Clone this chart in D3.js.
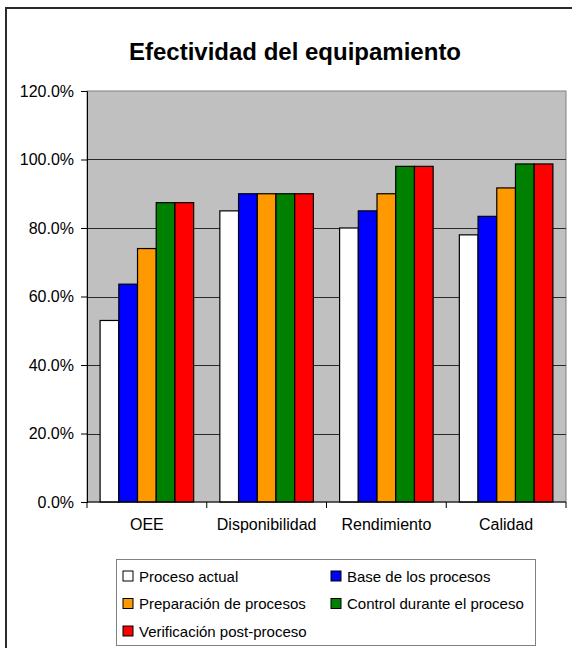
<!DOCTYPE html>
<html>
<head>
<meta charset="utf-8">
<script src="https://cdn.jsdelivr.net/npm/d3@7"></script>
<style>
  body { margin: 0; background: #fff; }
  text { font-family: "Liberation Sans", Arial, sans-serif; fill: #000; }
</style>
</head>
<body>
<div id="chart"></div>
<script>
// chart data
var categories = ["OEE", "Disponibilidad", "Rendimiento", "Calidad"];
var seriesNames = ["Proceso actual", "Base de los procesos", "Preparación de procesos",
  "Control durante el proceso", "Verificación post-proceso"];
var seriesColors = ["#ffffff", "#0000ff", "#ff9900", "#008000", "#ff0000"];
var procesoActual = [53.0, 85.0, 80.0, 78.0];
var baseProcesos = [63.6, 90.0, 85.0, 83.4];
var preparacion = [74.0, 90.0, 90.0, 91.7];
var control = [87.4, 90.0, 98.0, 98.7];
var verificacion = [87.4, 90.0, 98.0, 98.7];
var yTicks = [0, 20, 40, 60, 80, 100, 120];

var seriesValues = [procesoActual, baseProcesos, preparacion, control, verificacion];

var svgWidth = 572;
var svgHeight = 648;

var margin = { top: 91, right: 6, bottom: 146, left: 87 };
var width = svgWidth - margin.left - margin.right;
var height = svgHeight - margin.top - margin.bottom;

var svg = d3.select("#chart")
  .append("svg")
  .attr("width", svgWidth)
  .attr("height", svgHeight);

// outer chart frame (runs off the right and bottom edge)
svg.append("rect")
  .attr("x", 6)
  .attr("y", 8)
  .attr("width", 620)
  .attr("height", 700)
  .attr("fill", "#fff")
  .attr("stroke", "#2b2b2b")
  .attr("stroke-width", 2);

svg.append("text")
  .attr("x", 295)
  .attr("y", 60)
  .attr("text-anchor", "middle")
  .style("font-size", "24px")
  .style("font-weight", "bold")
  .text("Efectividad del equipamiento");

var chartGroup = svg.append("g")
  .attr("transform", `translate(${margin.left}, ${margin.top})`);

// scales
var x0 = d3.scaleBand()
  .domain(categories)
  .range([0, width])
  .paddingInner(0)
  .paddingOuter(0);

var x1 = d3.scaleBand()
  .domain(d3.range(seriesNames.length))
  .range([0, x0.bandwidth()])
  .paddingInner(0)
  .paddingOuter(0.7);

var yLinearScale = d3.scaleLinear()
  .domain([0, 120])
  .range([height, 0]);

// plot area
chartGroup.append("rect")
  .attr("x", 0)
  .attr("y", 0)
  .attr("width", width)
  .attr("height", height)
  .attr("fill", "#c0c0c0")
  .attr("stroke", "#808080")
  .attr("stroke-width", 1);

// gridlines
chartGroup.selectAll(".grid")
  .data(yTicks.filter(d => d > 0 && d < 120))
  .enter()
  .append("line")
  .attr("class", "grid")
  .attr("x1", 0)
  .attr("x2", width)
  .attr("y1", d => Math.round(yLinearScale(d)) + 0.5)
  .attr("y2", d => Math.round(yLinearScale(d)) + 0.5)
  .attr("stroke", "#2a2a2a")
  .attr("stroke-width", 1);

// bars
var groups = chartGroup.selectAll(".cat")
  .data(categories)
  .enter()
  .append("g")
  .attr("class", "cat")
  .attr("transform", d => `translate(${x0(d)}, 0)`);

groups.selectAll("rect")
  .data((d, i) => seriesValues.map((vals, s) => ({ s: s, v: vals[i] })))
  .enter()
  .append("rect")
  .attr("x", d => x1(d.s))
  .attr("y", d => yLinearScale(d.v))
  .attr("width", x1.bandwidth())
  .attr("height", d => height - yLinearScale(d.v))
  .attr("fill", d => seriesColors[d.s])
  .attr("stroke", "#000")
  .attr("stroke-width", 1.2);

// axes
var leftAxis = d3.axisLeft(yLinearScale)
  .tickValues(yTicks)
  .tickSize(6)
  .tickPadding(7)
  .tickFormat(d => d3.format(".1f")(d) + "%");

var yAxis = chartGroup.append("g")
  .call(leftAxis);
yAxis.select(".domain").attr("stroke", "#000");
yAxis.selectAll("line").attr("stroke", "#000");
yAxis.selectAll("text")
  .style("font-size", "16px")
  .style("font-family", "'Liberation Sans', Arial, sans-serif")
  .attr("fill", "#000");

var xAxis = chartGroup.append("g")
  .attr("transform", `translate(0, ${height})`);
xAxis.append("line")
  .attr("x1", 0)
  .attr("x2", width)
  .attr("stroke", "#000");
xAxis.selectAll(".tick")
  .data(categories.concat(["end"]))
  .enter()
  .append("line")
  .attr("class", "tick")
  .attr("x1", (d, i) => i < categories.length ? x0(d) : width)
  .attr("x2", (d, i) => i < categories.length ? x0(d) : width)
  .attr("y1", 0)
  .attr("y2", 6)
  .attr("stroke", "#000");
xAxis.selectAll(".label")
  .data(categories)
  .enter()
  .append("text")
  .attr("class", "label")
  .attr("x", d => x0(d) + x0.bandwidth() / 2)
  .attr("y", 28)
  .attr("text-anchor", "middle")
  .style("font-size", "16px")
  .text(d => d);

// legend
var legend = svg.append("g")
  .attr("transform", "translate(116, 559)");

legend.append("rect")
  .attr("x", 0.5)
  .attr("y", 0.5)
  .attr("width", 419)
  .attr("height", 86)
  .attr("fill", "#fff")
  .attr("stroke", "#808080");

var legendItems = legend.selectAll(".item")
  .data(seriesNames)
  .enter()
  .append("g")
  .attr("class", "item")
  .attr("transform", (d, i) => `translate(${i % 2 === 0 ? 7 : 215}, ${17 + Math.floor(i / 2) * 27.5})`);

legendItems.append("rect")
  .attr("x", 0)
  .attr("y", -5)
  .attr("width", 10)
  .attr("height", 10)
  .attr("fill", (d, i) => seriesColors[i])
  .attr("stroke", "#000");

legendItems.append("text")
  .attr("x", 16)
  .attr("y", 5.5)
  .style("font-size", "15px")
  .text(d => d);
</script>
</body>
</html>
